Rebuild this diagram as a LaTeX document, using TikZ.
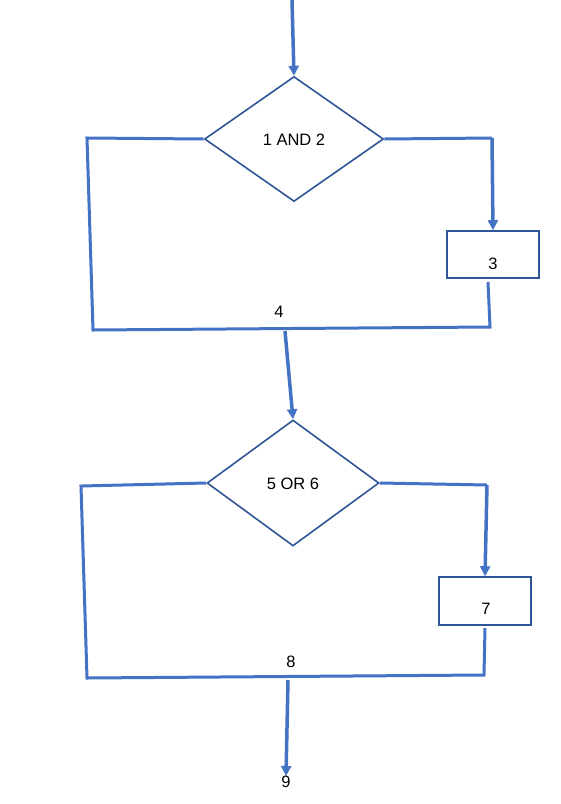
\documentclass[tikz,border=0pt]{standalone}
\usepackage{fontspec}
\setmainfont{Liberation Sans}
\usetikzlibrary{shapes.geometric,arrows.meta}
\definecolor{flowblue}{HTML}{4472C4}
\definecolor{edgeblue}{HTML}{2F5597}

\begin{document}
\begin{tikzpicture}[x=1pt,y=-1pt,
  decision/.style = {draw=edgeblue, line width=1.6pt, diamond, inner sep=0pt},
  block/.style = {draw=edgeblue, line width=1.6pt, rectangle, minimum width=92pt, minimum height=47pt, inner sep=0pt},
  txt/.style = {font=\fontsize{16.5}{19}\selectfont, inner sep=0pt},
  flow/.style = {draw=flowblue, line width=3pt},
  arr/.style = {flow, line width=3.5pt, -{Triangle[width=10pt,length=10pt]}}]
\useasboundingbox (0,0) rectangle (561,804);
\node[decision, minimum width=179pt, minimum height=125pt] (d1) at (294,139) {};
\node[txt] (t1) at (294,140) {1 AND 2};
\node[block] (b3) at (493,254.5) {};
\node[txt] (t3) at (493,264) {3};
\node[txt] (t4) at (279,312) {4};
\node[decision, minimum width=172pt, minimum height=126pt] (d2) at (293,483) {};
\node[txt] (t2) at (293,484) {5 OR 6};
\node[block, minimum height=48pt] (b7) at (485,601) {};
\node[txt] (t7) at (486,609) {7};
\node[txt] (t8) at (291,662) {8};
\node[txt] (t9) at (286,782) {9};
\coordinate (s) at (292,0);
\coordinate (r1) at (492,138);
\coordinate (q1) at (488,282);
\coordinate (q2) at (490,327);
\coordinate (q3) at (93,330);
\coordinate (q4) at (87,138);
\coordinate (m1) at (285,331);
\coordinate (r2) at (487,485);
\coordinate (p1) at (485,628);
\coordinate (p2) at (484,675);
\coordinate (p3) at (87,678);
\coordinate (p4) at (81,486);
\coordinate (m2) at (288,680);
\draw[arr] (s) -- (d1.north);
\draw[flow] (d1.east) -- (r1);
\draw[arr] (r1) -- (b3.north);
\draw[flow] (q1) -- (q2) -- (q3) -- (q4) -- (d1.west);
\draw[arr] (m1) -- (d2.north);
\draw[flow] (d2.east) -- (r2);
\draw[arr] (r2) -- (b7.north);
\draw[flow] (p1) -- (p2) -- (p3) -- (p4) -- (d2.west);
\draw[arr] (m2) -- (t9.north);
\end{tikzpicture}
\end{document}
